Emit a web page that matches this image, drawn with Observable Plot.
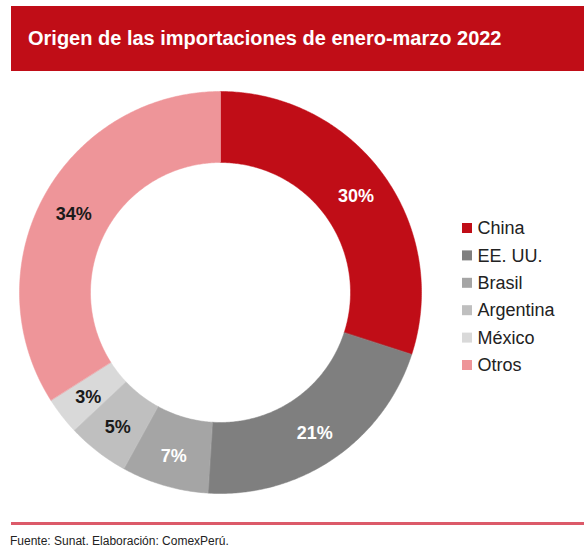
<!DOCTYPE html>
<html>
<head>
<meta charset="utf-8">
<script src="https://cdn.jsdelivr.net/npm/d3@7"></script>
<script src="https://cdn.jsdelivr.net/npm/@observablehq/plot@0.6"></script>
<style>
  html, body { margin: 0; padding: 0; background: #fff; }
  body { width: 584px; height: 552px; position: relative; overflow: hidden; font-family: "Liberation Sans", Arial, sans-serif; }
  #title { position: absolute; left: 11px; top: 6px; width: 573px; height: 65px; background: #C00D17; color: #fff;
           font-weight: bold; font-size: 20px; line-height: 65px; box-sizing: border-box; padding-left: 17px; }
  #chart { position: absolute; left: 0; top: 72px; }
  #rule { position: absolute; left: 11px; top: 522px; width: 573px; height: 3px; background: #DC5A69; }
  #source { position: absolute; left: 10px; top: 534px; font-size: 12px; color: #222; }
</style>
</head>
<body>
<div id="title">Origen de las importaciones de enero-marzo 2022</div>
<div id="chart"></div>
<div id="rule"></div>
<div id="source">Fuente: Sunat. Elaboración: ComexPerú.</div>
<script>
const countries = ["China", "EE. UU.", "Brasil", "Argentina", "México", "Otros"];
const shares = [30, 21, 7, 5, 3, 34];
const labels = ["30%", "21%", "7%", "5%", "3%", "34%"];
const colors = ["#C00D17", "#7F7F7F", "#A5A5A5", "#BFBFBF", "#D9D9D9", "#EE9599"];

const W = 584, H = 440;
const cx = 220, cy = 220, rOuter = 201, rInner = 130;

const rows = countries.map((name, i) => ({name, value: shares[i], label: labels[i], i}));
const arcs = d3.pie().sort(null).value(d => d.value)(rows);

// polygon points for each slice, derived from pie angles
const pts = [];
for (const a of arcs) {
  const n = Math.max(4, Math.ceil((a.endAngle - a.startAngle) / 0.01));
  for (let k = 0; k <= n; k++) {
    const t = a.startAngle + (a.endAngle - a.startAngle) * k / n;
    pts.push({name: a.data.name, x: cx + rOuter * Math.sin(t), y: cy - rOuter * Math.cos(t)});
  }
  for (let k = n; k >= 0; k--) {
    const t = a.startAngle + (a.endAngle - a.startAngle) * k / n;
    pts.push({name: a.data.name, x: cx + rInner * Math.sin(t), y: cy - rInner * Math.cos(t)});
  }
}
const rMid = (rOuter + rInner) / 2 + 2;
const labelPts = arcs.map(a => {
  const t = (a.startAngle + a.endAngle) / 2;
  return {name: a.data.name, label: a.data.label, x: cx + rMid * Math.sin(t), y: cy - rMid * Math.cos(t)};
});
const darkText = new Set(["Argentina", "México", "Otros"]);

const legX = 462, legY0 = 156, legStep = 27.4, sw = 10;

const chart = Plot.plot({
  width: W, height: H,
  margin: 0,
  x: {type: "identity", axis: null},
  y: {type: "identity", axis: null},
  color: {domain: countries, range: colors},
  style: {fontFamily: "'Liberation Sans', Arial, sans-serif", background: "transparent"},
  marks: [
    Plot.line(pts, {x: "x", y: "y", z: "name", fill: "name", stroke: "name", strokeWidth: 0.5, curve: "linear-closed"}),
    Plot.text(labelPts, {x: "x", y: "y", dy: 2.5, text: "label", fontSize: 18, fontWeight: "bold",
      fill: d => darkText.has(d.name) ? "#1a1a1a" : "#ffffff"}),
    Plot.rect(rows, {x1: () => legX, x2: () => legX + sw, y1: d => legY0 + d.i * legStep - sw / 2, y2: d => legY0 + d.i * legStep + sw / 2, fill: "name"}),
    Plot.text(rows, {x: () => legX + sw + 5, y: d => legY0 + d.i * legStep, text: "name", textAnchor: "start", fontSize: 18, fill: "#222"})
  ]
});
document.getElementById("chart").appendChild(chart);
</script>
</body>
</html>
